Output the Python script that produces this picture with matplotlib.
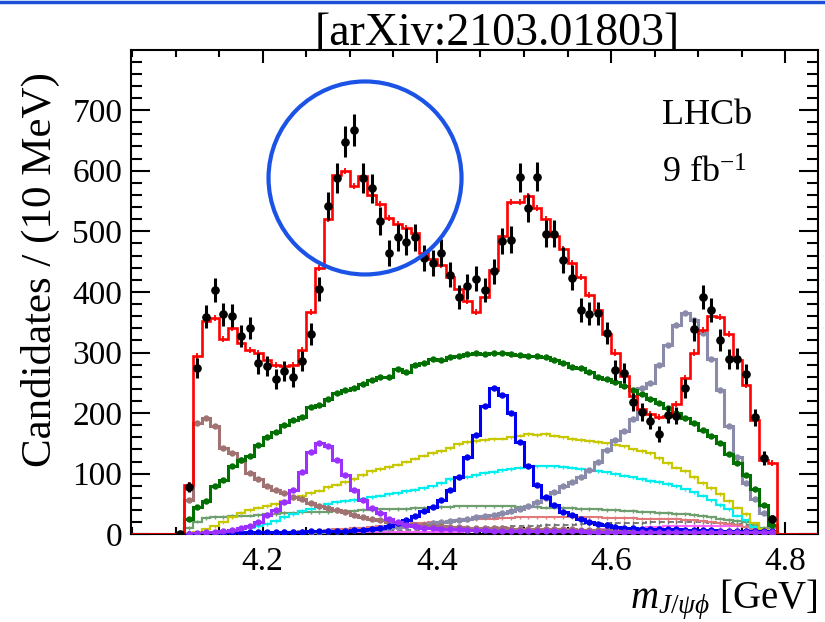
import numpy as np
import matplotlib
matplotlib.use("Agg")
import matplotlib.pyplot as plt
from matplotlib.ticker import MultipleLocator
from matplotlib.patches import Ellipse
from matplotlib.lines import Line2D

plt.rcParams['font.family'] = ['Liberation Serif', 'DejaVu Serif']
plt.rcParams['mathtext.fontset'] = 'custom'
plt.rcParams['mathtext.rm'] = 'Liberation Serif'
plt.rcParams['mathtext.it'] = 'Liberation Serif:italic'
plt.rcParams['mathtext.bf'] = 'Liberation Serif:bold'

# ---------------- data ----------------
bin_width = 0.01
data_first_edge = 4.10
model_first_edge = 4.11
x_range = (4.0485, 4.8375)
y_max = 799
x_major_ticks = [4.2, 4.4, 4.6, 4.8]

data_counts = [0, 78, 274, 359, 403, 363, 361, 327, 340, 282,
               278, 256, 269, 260, 286, 330, 405, 542, 588, 648,
               667, 588, 571, 517, 464, 490, 483, 490, 456, 448,
               465, 428, 391, 409, 422, 403, 434, 484, 486, 589,
               539, 590, 496, 496, 453, 423, 370, 364, 365, 332,
               271, 266, 218, 202, 187, 166, 197, 196, 241, 338,
               391, 370, 321, 289, 290, 265, 193, 126, 26]

fit_total = [81, 294, 352, 357, 323, 340, 315, 304, 299, 288,
             279, 277, 280, 304, 367, 440, 520, 593, 600, 575,
             592, 560, 545, 522, 512, 505, 497, 465, 455, 445,
             425, 405, 385, 367, 392, 436, 492, 548, 548, 558,
             538, 520, 492, 470, 447, 425, 395, 370, 330, 300,
             262, 228, 206, 198, 194, 196, 215, 258, 300, 337,
             360, 358, 330, 287, 246, 189, 122, 118]

comp_darkgreen = [25, 45, 55, 80, 90, 112, 122, 130, 148, 160,
                  168, 180, 188, 194, 210, 214, 224, 233, 238, 242,
                  248, 254, 260, 260, 272, 268, 280, 282, 290, 288,
                  292, 295, 298, 300, 297, 300, 300, 297, 296, 294,
                  294, 292, 287, 283, 276, 275, 268, 260, 257, 252,
                  245, 238, 231, 224, 217, 209, 200, 192, 183, 172,
                  162, 150, 133, 118, 98, 75, 48, 15]

comp_brown = [57, 183, 192, 178, 142, 134, 123, 101, 92, 80,
              73, 68, 62, 58, 52, 46, 43, 40, 36, 32,
              29, 26, 24, 21, 19, 17, 16, 15, 14, 13,
              12, 12, 11, 11, 10, 10, 10, 9, 9, 9,
              9, 8, 8, 8, 8, 7, 7, 7, 7, 6,
              6, 6, 6, 6, 5, 5, 5, 5, 5, 4,
              4, 4, 4, 3, 3, 3, 2, 1]

comp_purple = [1, 2, 3, 4, 5, 7, 10, 14, 21, 32,
               40, 54, 73, 103, 136, 150, 145, 123, 98, 73,
               57, 43, 35, 26, 21, 16, 13, 11, 10, 9,
               8, 8, 7, 7, 7, 6, 6, 6, 6, 5,
               5, 5, 5, 5, 5, 5, 4, 4, 4, 4,
               4, 4, 4, 4, 4, 4, 4, 3, 3, 3,
               3, 3, 3, 3, 3, 3, 3, 3]

comp_blue = [1, 1, 1, 2, 2, 2, 2, 3, 3, 3,
             3, 4, 4, 4, 5, 5, 5, 6, 6, 7,
             7, 9, 11, 14, 18, 24, 30, 38, 45, 57,
             73, 95, 128, 164, 211, 241, 230, 200, 153, 112,
             81, 62, 48, 37, 32, 26, 21, 17, 15, 12,
             11, 10, 9, 9, 8, 8, 8, 7, 7, 7,
             7, 6, 6, 6, 6, 6, 5, 5]

comp_lavender = [0, 0, 1, 1, 1, 1, 1, 2, 2, 2,
                 2, 3, 3, 3, 4, 4, 5, 5, 6, 7,
                 7, 8, 9, 10, 12, 13, 15, 16, 18, 20,
                 22, 24, 26, 28, 30, 32, 35, 38, 42, 46,
                 53, 60, 70, 79, 87, 95, 106, 120, 139, 156,
                 170, 190, 241, 250, 280, 312, 345, 365, 354, 332,
                 290, 238, 178, 128, 85, 58, 35, 12]

comp_yellow = [1, 3, 8, 13, 20, 28, 35, 40, 44, 47,
               50, 55, 60, 64, 68, 72, 78, 82, 86, 91,
               98, 104, 108, 111, 115, 120, 125, 130, 134, 137,
               142, 149, 152, 154, 156, 157, 158, 160, 163, 165,
               164, 165, 163, 160, 157, 156, 154, 152, 150, 148,
               145, 140, 137, 134, 126, 118, 110, 104, 95, 85,
               76, 66, 55, 44, 33, 18, 8, 3]

comp_cyan = [0, 1, 2, 3, 4, 6, 8, 11, 14, 17,
             22, 29, 33, 38, 42, 45, 50, 53, 55, 57,
             59, 62, 64, 66, 68, 71, 73, 76, 79, 85,
             91, 93, 95, 98, 101, 103, 106, 108, 110, 111,
             112, 112, 112, 111, 110, 108, 106, 104, 102, 100,
             97, 94, 91, 88, 86, 83, 80, 74, 69, 64,
             56, 48, 41, 31, 23, 12, 6, 2]

comp_sage = [10, 21, 27, 29, 29, 30, 31, 31, 32, 33,
             34, 35, 35, 36, 36, 37, 37, 38, 38, 39,
             40, 40, 41, 41, 42, 42, 43, 43, 44, 45,
             45, 46, 46, 46, 46, 46, 46, 46, 45, 45,
             45, 44, 44, 43, 43, 42, 42, 41, 40, 40,
             39, 38, 37, 36, 35, 35, 34, 33, 32, 30,
             28, 26, 24, 22, 20, 15, 10, 4]

comp_salmon = [0, 0, 0, 0, 1, 1, 1, 2, 2, 3,
               3, 4, 4, 5, 5, 6, 7, 8, 9, 10,
               11, 12, 13, 14, 16, 17, 18, 19, 20, 21,
               22, 23, 24, 25, 26, 26, 27, 27, 28, 28,
               28, 28, 28, 28, 28, 28, 28, 28, 27, 27,
               27, 27, 26, 26, 26, 25, 25, 24, 23, 22,
               21, 19, 17, 15, 12, 9, 6, 3]

comp_pink = [0, 0, 0, 0, 0, 0, 0, 0, 1, 1,
             1, 1, 1, 1, 2, 2, 2, 2, 2, 3,
             3, 3, 3, 3, 4, 4, 4, 4, 4, 4,
             4, 4, 5, 5, 5, 5, 5, 5, 5, 5,
             5, 5, 6, 6, 6, 6, 7, 7, 8, 8,
             9, 10, 11, 12, 12, 13, 13, 14, 14, 14,
             14, 14, 14, 13, 12, 10, 7, 3]

comp_greydash = [0, 0, 0, 0, 0, 0, 0, 0, 1, 1,
                 1, 1, 1, 2, 2, 2, 3, 3, 3, 4,
                 4, 5, 5, 6, 6, 7, 7, 8, 8, 9,
                 9, 10, 10, 11, 11, 12, 12, 13, 13, 14,
                 14, 15, 15, 16, 16, 17, 17, 18, 18, 18,
                 19, 19, 19, 20, 20, 20, 20, 20, 20, 20,
                 19, 19, 18, 17, 15, 12, 8, 3]

comp_bluedash = [0, 1, 1, 1, 1, 2, 2, 2, 2, 2,
                 2, 2, 3, 3, 3, 3, 3, 3, 3, 3,
                 3, 3, 3, 3, 3, 3, 3, 3, 3, 3,
                 3, 3, 3, 3, 3, 3, 3, 3, 3, 3,
                 3, 3, 3, 3, 3, 3, 3, 3, 3, 3,
                 3, 3, 3, 3, 3, 3, 3, 3, 3, 3,
                 3, 3, 3, 2, 2, 2, 1, 1]

# circle highlighting the peak region (centre in data units, radius in pixels)
circle_centre = (4.3175, 588)
circle_radius_px = 96.5

# ---------------- figure ----------------
W, H = 825, 622
fig = plt.figure(figsize=(W / 100, H / 100), dpi=100)
fig.patch.set_facecolor('white')

ax_left_px, ax_right_px, ax_bottom_px = 130.7, 818.0, 534.3
px_per_unit = 0.606
ax_top_px = ax_bottom_px - y_max * px_per_unit
ax = fig.add_axes([ax_left_px / W, 1 - ax_bottom_px / H,
                   (ax_right_px - ax_left_px) / W,
                   (ax_bottom_px - ax_top_px) / H])

data_counts = np.array(data_counts, dtype=float)
data_edges = data_first_edge + bin_width * np.arange(len(data_counts) + 1)
data_centers = 0.5 * (data_edges[:-1] + data_edges[1:])
model_edges = model_first_edge + bin_width * np.arange(len(fit_total) + 1)
model_centers = 0.5 * (model_edges[:-1] + model_edges[1:])


def draw_comp(vals, color, lw, marker=False, ls='-', z=2):
    vals = np.array(vals, dtype=float)
    ax.stairs(vals, model_edges, color=color, lw=lw, linestyle=ls,
              baseline=0, zorder=z)
    if marker:
        ax.plot(model_centers, vals, 'o', ms=3.6, color=color,
                mec=color, zorder=z)
    else:
        ax.errorbar(model_centers, vals, yerr=3.0, fmt='none',
                    ecolor=color, elinewidth=1.0, zorder=z)


# thin components
draw_comp(comp_bluedash, '#3030ff', 1.2, ls=(0, (3, 2)), z=2)
draw_comp(comp_greydash, '#707070', 1.3, ls=(0, (3, 2)), z=2)
draw_comp(comp_pink, '#ff66ff', 1.5, z=2)
draw_comp(comp_salmon, '#e07a7a', 1.5, z=2)
draw_comp(comp_sage, '#6f9f6f', 1.6, z=2)
draw_comp(comp_cyan, '#00eeee', 1.6, z=2)
draw_comp(comp_yellow, '#c8c800', 1.6, z=2)
# thick components with markers
draw_comp(comp_lavender, '#8a8aaa', 2.2, marker=True, z=3)
draw_comp(comp_brown, '#a07272', 2.2, marker=True, z=3)
draw_comp(comp_blue, '#0000f0', 2.2, marker=True, z=3)
draw_comp(comp_purple, '#9b30ff', 2.2, marker=True, z=3)
draw_comp(comp_darkgreen, '#007000', 2.2, marker=True, z=3)

# total fit (padded with empty bins up to the frame)
fit_vals = np.concatenate(([0.0], np.array(fit_total, float), [0.0]))
fit_edges = np.concatenate(([x_range[0]], model_edges, [x_range[1]]))
ax.stairs(fit_vals, fit_edges, color='#ff0000', lw=1.9, baseline=None,
          zorder=4)
ax.errorbar(model_centers, fit_total, yerr=5.0, fmt='none',
            ecolor='#ff0000', elinewidth=1.3, zorder=4)

# data
yerr = np.sqrt(data_counts)
ax.errorbar(data_centers, data_counts, yerr=yerr, fmt='o', color='black',
            ms=5.2, elinewidth=2.2, capsize=0, zorder=6)

# highlight circle
ax.add_patch(Ellipse(circle_centre,
                     width=2 * circle_radius_px / ((ax_right_px - ax_left_px) / (x_range[1] - x_range[0])),
                     height=2 * circle_radius_px / px_per_unit,
                     fill=False, edgecolor='#1a53e6', lw=3.0, zorder=7,
                     clip_on=False))

ax.set_xlim(*x_range)
ax.set_ylim(0, y_max)
ax.set_xticks(x_major_ticks)
ax.set_xticklabels([f"{t:.1f}" for t in x_major_ticks])
ax.xaxis.set_minor_locator(MultipleLocator(0.05))
ax.yaxis.set_major_locator(MultipleLocator(100))
ax.yaxis.set_minor_locator(MultipleLocator(20))

ax.tick_params(axis='both', which='both', direction='in', top=True,
               right=True, width=1.5, colors='black')
ax.tick_params(axis='y', which='major', length=13.5, labelsize=24, pad=6)
ax.tick_params(axis='y', which='minor', length=8)
ax.tick_params(axis='x', which='major', length=9, labelsize=24, pad=9)
ax.tick_params(axis='x', which='minor', length=5)
for s in ax.spines.values():
    s.set_linewidth(1.5)

# titles and labels
fig.text(40 / W, 1 - 72 / H, 'Candidates / (10 MeV)', rotation=90,
         ha='center', va='top', fontsize=31)
fig.text(818 / W, 1 - 608 / H, r'$m_{J/\psi\phi}$ [GeV]', ha='right',
         va='baseline', fontsize=28)
fig.text(662 / W, 1 - 124 / H, 'LHCb', fontsize=26, va='baseline')
fig.text(662 / W, 1 - 183 / H, r'9 fb$^{\mathregular{-1}}$', fontsize=26,
         va='baseline')
fig.text(497 / W, 1 - 45 / H, '[arXiv:2103.01803]', ha='center',
         va='baseline', fontsize=33)

# blue slide rule at the very top
fig.add_artist(Line2D([0, 1], [1 - 1.5 / H, 1 - 1.5 / H],
                      transform=fig.transFigure, color='#1a4fd6', lw=2.5))

fig.savefig('out.png', dpi=100)
